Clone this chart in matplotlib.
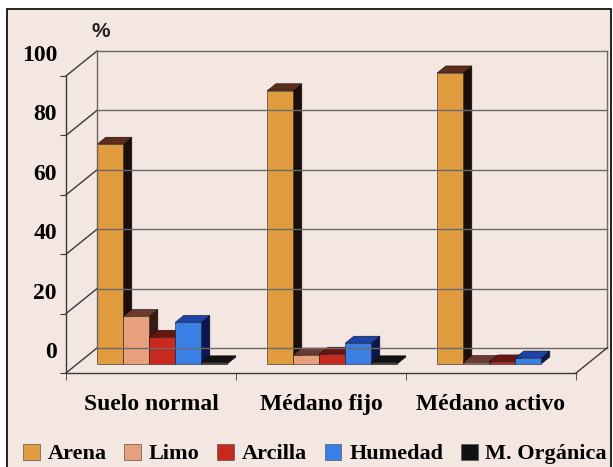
import matplotlib.pyplot as plt
import matplotlib.transforms as mtransforms
from matplotlib.patches import Polygon, Rectangle, Patch
import numpy as np

# data
categorias = ["Suelo normal", "Médano fijo", "Médano activo"]
series = ["Arena", "Limo", "Arcilla", "Humedad", "M. Orgánica"]
arena = [74, 92, 98]
limo = [16, 3, 0.5]
arcilla = [9, 3.3, 0.7]
humedad = [14, 7, 2]
m_organica = [0.4, 0.4, 0]
y_ticks = [0, 20, 40, 60, 80, 100]

valores = [arena, limo, arcilla, humedad, m_organica]
col_front = ["#e09c3e", "#e8a07c", "#c8291f", "#3a80e4", "#111111"]
col_top = ["#5c2c1c", "#6e3a30", "#6a1410", "#1e44aa", "#111111"]
col_side = ["#1c0e08", "#3c1a14", "#320806", "#0c1650", "#111111"]

bg = "#f4e6e1"
fig = plt.figure(figsize=(6.13, 4.67), dpi=100, facecolor="white")
fig.add_artist(Rectangle((7 / 613, -0.01), 604 / 613, (467 - 9) / 467 + 0.01,
                         transform=fig.transFigure, fc=bg, ec="black", lw=1.2, zorder=-5))

ax = fig.add_axes([66 / 613, (467 - 373) / 467, 510 / 613, 297 / 467])
ax.set_facecolor("none")
ax.set_xlim(0, 3)
ax.set_ylim(0, 100)

# depth of the pseudo 3d box, in pixels -> data units
inv = ax.transData.inverted()
o = inv.transform((0, 0))
DX, DY = inv.transform((31, 25)) - o

lc = "#3a3a3a"
gc = "#6a6a6a"
# back wall + left wall
for v in y_ticks:
    ax.plot([DX, 3 + DX], [v + DY, v + DY], color=gc, lw=1, clip_on=False)
    ax.plot([0, DX], [v, v + DY], color=lc, lw=1, clip_on=False)
ax.plot([DX, DX], [DY, 100 + DY], color=gc, lw=1, clip_on=False)
ax.plot([3 + DX, 3 + DX], [DY, 100 + DY], color=gc, lw=1, clip_on=False)
ax.plot([3, 3 + DX], [0, DY], color=lc, lw=1, clip_on=False)

# bars
f0, f1 = 0.36, 0.64
bw = 26 / 170
start = 20 / 170
for i in range(len(categorias)):
    for j, vals in enumerate(valores):
        h = vals[i]
        if h <= 0:
            continue
        x0 = i + start + j * bw + f0 * DX
        y0 = f0 * DY
        ddx = (f1 - f0) * DX
        ddy = (f1 - f0) * DY
        side = Polygon([(x0 + bw, y0), (x0 + bw + ddx, y0 + ddy),
                        (x0 + bw + ddx, y0 + h + ddy), (x0 + bw, y0 + h)],
                       closed=True, fc=col_side[j], ec="#111111", lw=0.4, clip_on=False)
        top = Polygon([(x0, y0 + h), (x0 + ddx, y0 + h + ddy),
                       (x0 + bw + ddx, y0 + h + ddy), (x0 + bw, y0 + h)],
                      closed=True, fc=col_top[j], ec="#111111", lw=0.4, clip_on=False)
        ax.add_patch(side)
        ax.add_patch(top)
        ax.bar(x0, h, bw, bottom=y0, align="edge", color=col_front[j],
               edgecolor="#222222", lw=0.4, clip_on=False)

# front axes
for s in ["top", "right"]:
    ax.spines[s].set_visible(False)
for s in ["left", "bottom"]:
    ax.spines[s].set_color(lc)
    ax.spines[s].set_linewidth(1)
ax.set_yticks(y_ticks)
ax.set_yticklabels([])
ax.tick_params(axis="y", length=4, color=lc)
ax.set_xticks([0.5, 1.5, 2.5])
ax.set_xticklabels(categorias, fontsize=17, fontweight="bold", family="Liberation Serif")
ax.set_xticks([0, 1, 2, 3], minor=True)
ax.tick_params(axis="x", which="major", length=0, pad=15)
ax.tick_params(axis="x", which="minor", length=5, color=lc)

lab_tf = mtransforms.offset_copy(ax.get_yaxis_transform(), fig=fig, x=-9, y=0, units="dots")
for v in y_ticks:
    ax.text(0, v + DY - 1.5, str(v), transform=lab_tf, ha="right", va="center",
            fontsize=17, fontweight="bold", family="Liberation Serif")

ax.text(0.206, 115, "%", ha="center", va="center", fontsize=15, fontweight="bold",
        family="Liberation Sans", color="#222222", clip_on=False)

handles = [Patch(fc=c, ec="#555555", lw=0.5) for c in col_front]
fig.legend(handles, series, loc="center", bbox_to_anchor=(315 / 613, 13 / 467), ncol=5,
           frameon=False, handlelength=0.75, handleheight=0.75, handletextpad=0.35,
           columnspacing=0.8, borderpad=0,
           prop={"family": "Liberation Serif", "weight": "bold", "size": 16})

fig.savefig("out.png", dpi=100, facecolor="white")
